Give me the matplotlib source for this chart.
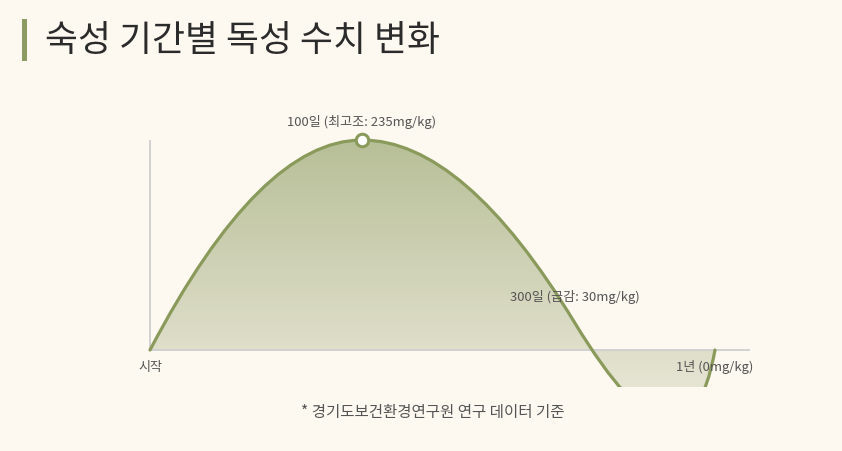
import numpy as np
import matplotlib
matplotlib.use("Agg")
import matplotlib.pyplot as plt
from matplotlib.path import Path
from matplotlib.patches import PathPatch, Rectangle

plt.rcParams['font.family'] = ['Noto Sans CJK KR', 'DejaVu Sans']

# data
stage_labels = ["시작", "100일 (최고조: 235mg/kg)", "300일 (급감: 30mg/kg)", "1년 (0mg/kg)"]
days = [0, 100, 300, 365]
toxicity = [0, 235, 30, 0]
title = "숙성 기간별 독성 수치 변화"
note = "* 경기도보건환경연구원 연구 데이터 기준"

# layout: the drawn axis is not to scale, so stages sit at fixed spots
stage_pos = [0, 212, 425, 565]
label_dy = [-17, 18, 26, -17]   # label offset in pixels
handle = 0.52                   # bezier handle length of first segment

W, H = 842, 451
bg = "#fdf8f0"
green = "#8a9a5b"
k = 210 / 235                   # pixels per mg/kg


def fig_box(x0, y0, x1, y1):
    # pixel box (top-left origin) -> figure fraction rect
    return [x0 / W, 1 - y1 / H, (x1 - x0) / W, (y1 - y0) / H]


fig = plt.figure(figsize=(W / 100, H / 100), dpi=100, facecolor=bg)

# title with accent bar
fig.add_artist(Rectangle((22 / W, 1 - 61 / H), 5 / W, 42 / H,
                         transform=fig.transFigure, color="#8c9a63", lw=0))
fig.text(45 / W, 1 - 41 / H, title, fontsize=25.8, color="#2b2b2b",
         ha="left", va="center", weight="medium")

ymin = -37 / k
ymax = 262
ax = fig.add_axes(fig_box(140, 350 - ymax * k, 760, 387))
ax.set_xlim(-10, 610)
ax.set_ylim(ymin, ymax)
ax.axis("off")
ax.patch.set_alpha(0)

# smooth quadratic chain through the stage points
pts = np.column_stack([stage_pos, toxicity]).astype(float)
ctrl = [np.array([pts[0, 0] + handle * (pts[1, 0] - pts[0, 0]), pts[1, 1]])]
for i in range(1, len(pts) - 1):
    ctrl.append(2 * pts[i] - ctrl[-1])

verts = [pts[0]]
codes = [Path.MOVETO]
for i in range(len(pts) - 1):
    verts += [ctrl[i], pts[i + 1]]
    codes += [Path.CURVE3, Path.CURVE3]
curve = Path(verts, codes)
area = Path(verts + [pts[0], pts[0]], codes + [Path.LINETO, Path.CLOSEPOLY])

# gradient fill clipped to the area under the curve
grad = np.linspace(0, 1, 256)[:, None]
top_c = np.array(matplotlib.colors.to_rgb("#b7bf97"))
bot_c = np.array(matplotlib.colors.to_rgb("#e6e4d3"))
img = top_c[None, None, :] * (1 - grad[..., None]) + bot_c[None, None, :] * grad[..., None]
im = ax.imshow(img, extent=[pts[0, 0], pts[-1, 0], ymin, max(toxicity)],
               aspect="auto", origin="upper", zorder=1)
clip = PathPatch(area, transform=ax.transData, facecolor="none", edgecolor="none")
ax.add_patch(clip)
im.set_clip_path(clip)

# axis lines
ax.vlines(stage_pos[0], 0, max(toxicity), color="#cfcfcf", lw=1.3, zorder=2)
ax.hlines(0, stage_pos[0], 600, color="#cfcfcf", lw=1.3, zorder=2)

ax.add_patch(PathPatch(curve, facecolor="none", edgecolor=green, lw=2.3,
                       zorder=3, capstyle="round"))

peak = int(np.argmax(toxicity))
ax.plot(stage_pos[peak], toxicity[peak], "o", ms=9, mfc="white", mec=green,
        mew=2.2, zorder=4, clip_on=False)

for lab, x, y, dy in zip(stage_labels, stage_pos, toxicity, label_dy):
    ax.annotate(lab, (x, y), xytext=(0, dy), textcoords="offset pixels",
                ha="center", va="center", fontsize=9.4, color="#555555",
                annotation_clip=False, zorder=5)

fig.text(433 / W, 1 - 413 / H, note, fontsize=11.2, color="#555555",
         ha="center", va="center", style="italic")

fig.savefig("out.png", dpi=100, facecolor=bg)
